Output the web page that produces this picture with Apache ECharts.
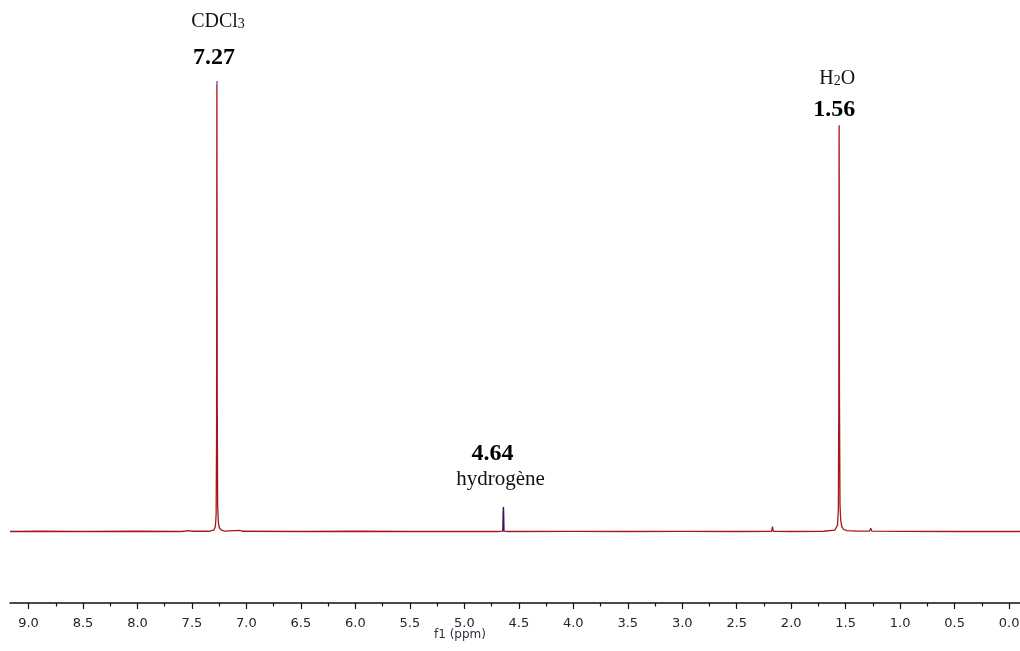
<!DOCTYPE html>
<html>
<head>
<meta charset="utf-8">
<script src="https://cdn.jsdelivr.net/npm/echarts@6/dist/echarts.min.js"></script>
<style>
html,body{margin:0;padding:0;background:#fff;}
#chart{width:1020px;height:651px;}
</style>
</head>
<body>
<div id="chart"></div>
<script>
// ---- data ----
// spectrum points: [chemical shift (ppm), relative intensity]
const spectrum = [
  [9.17,0.10],[8.90,0.15],[8.50,0.10],[8.00,0.15],[7.60,0.10],[7.52,0.30],[7.50,0.15],
  [7.35,0.15],[7.30,0.40],[7.285,1.2],[7.278,4.0],[7.274,22],[7.271,100],[7.268,30],
  [7.264,6.0],[7.258,2.2],[7.250,1.0],[7.230,0.40],[7.200,0.20],[7.06,0.35],[7.04,0.15],
  [6.50,0.10],[6.00,0.15],[5.50,0.10],[5.00,0.12],[4.70,0.10],[4.645,0.20],[4.641,5.6],
  [4.638,0.20],[4.60,0.10],[4.00,0.12],[3.50,0.10],[3.00,0.12],[2.50,0.10],[2.18,0.15],
  [2.172,1.2],[2.165,0.15],[2.00,0.10],[1.70,0.15],[1.60,0.40],[1.575,1.5],[1.567,5.0],
  [1.563,30],[1.560,91],[1.557,30],[1.552,6.0],[1.545,2.5],[1.535,1.2],[1.520,0.60],
  [1.490,0.30],[1.40,0.20],[1.28,0.20],[1.27,0.80],[1.26,0.20],[1.00,0.12],[0.50,0.10],
  [0.00,0.12],[-0.10,0.10]
];
const hydrogenPeak = [[4.645,0.20],[4.641,5.6],[4.638,0.20]];
const majorTicks = [0.0,0.5,1.0,1.5,2.0,2.5,3.0,3.5,4.0,4.5,5.0,5.5,6.0,6.5,7.0,7.5,8.0,8.5,9.0];
const minorTicks = [0.25,0.75,1.25,1.75,2.25,2.75,3.25,3.75,4.25,4.75,5.25,5.75,6.25,6.75,7.25,7.75,8.25,8.75];
const axisTitle = 'f1 (ppm)';
const peakShifts = ['7.27','1.56','4.64'];
const peakNames = ['CDCl{s|3}','H{s|2}O','hydrogène'];

const X_MIN = -0.10, X_MAX = 9.17;
const chart = echarts.init(document.getElementById('chart'));
const red = '#a31818';
const serif = '"Liberation Serif","DejaVu Serif",serif';
const sans = '"DejaVu Sans",Verdana,sans-serif';

const option = {
  animation:false,
  backgroundColor:'#fff',
  grid:{left:10,right:0,top:85,bottom:48,containLabel:false,outerBoundsMode:'none'},
  xAxis:[{
    type:'value',inverse:true,min:X_MIN,max:X_MAX,
    axisLine:{show:true,onZero:false,lineStyle:{color:'#111',width:1.5}},
    axisTick:{show:true,customValues:majorTicks,length:6,inside:false,lineStyle:{color:'#111',width:1.2}},
    axisLabel:{show:true,customValues:majorTicks,margin:14,
      formatter:v=>v.toFixed(1),
      fontFamily:sans,fontSize:13,color:'#222430'},
    splitLine:{show:false}
  },{
    type:'value',inverse:true,min:X_MIN,max:X_MAX,position:'bottom',
    axisLine:{show:false,onZero:false},
    axisTick:{show:true,customValues:minorTicks,length:3.5,lineStyle:{color:'#111',width:1.2}},
    axisLabel:{show:false},splitLine:{show:false}
  }],
  yAxis:{type:'value',min:-15.9,max:100,show:false,splitLine:{show:false}},
  series:[{
    type:'line',data:spectrum,xAxisIndex:0,showSymbol:false,symbol:'none',
    lineStyle:{color:red,width:1.3},clip:false,silent:true
  },{
    type:'line',data:hydrogenPeak,xAxisIndex:0,showSymbol:false,symbol:'none',
    lineStyle:{color:'#1c1c70',width:1.3},clip:false,silent:true
  }]
};
chart.setOption(option);

// annotations placed from peak positions on the axis
function px(ppm,val){return chart.convertToPixel({gridIndex:0},[ppm,val]);}
const texts = [];
const layout = [
  {nameY:22, shiftY:58, nameDx:1, shiftDx:-3, nameSize:20},
  {nameY:79, shiftY:110, nameDx:-2, shiftDx:-5, nameSize:20},
  {nameY:479, shiftY:454, nameDx:-3, shiftDx:-11, nameSize:21}
];
layout.forEach((L,i)=>{
  const p = px(Number(peakShifts[i]),0);
  texts.push({type:'text',x:p[0]+L.shiftDx,y:L.shiftY,z:10,style:{
    text:peakShifts[i],fontFamily:serif,fontWeight:'bold',fontSize:24,fill:'#000',
    align:'center',verticalAlign:'middle'}});
  texts.push({type:'text',x:p[0]+L.nameDx,y:L.nameY,z:20,style:{
    text:peakNames[i],fontFamily:serif,fontSize:L.nameSize,fill:'#111',
    align:'center',verticalAlign:'middle',
    rich:{s:{fontFamily:serif,fontSize:14,fill:'#111',padding:[4,0,0,0]}}}});
});
// small connector mark above the CDCl3 peak
const peakTop = px(7.27,100);
texts.push({type:'line',shape:{x1:peakTop[0],y1:peakTop[1]-4,x2:peakTop[0],y2:peakTop[1]},style:{stroke:'#1c1c70',lineWidth:1}});
const t = px(5.04,0);
texts.push({type:'text',x:t[0],y:635,style:{text:axisTitle,
  fontFamily:sans,fontSize:12,fill:'#303340',align:'center',verticalAlign:'middle'}});
chart.setOption({graphic:{elements:texts}});
</script>
</body>
</html>
